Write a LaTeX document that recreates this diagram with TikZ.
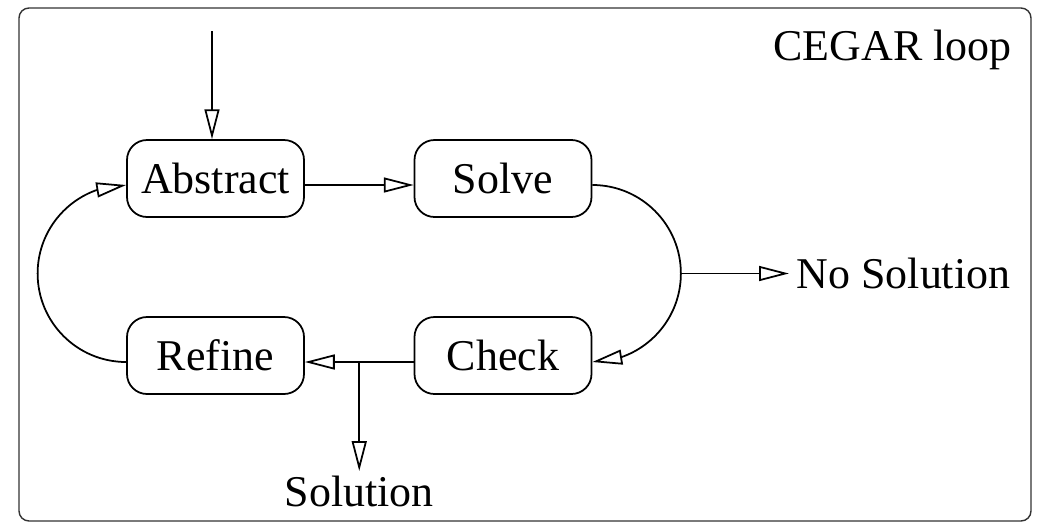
\documentclass[tikz,border=0pt]{standalone}
\usepackage{fontspec}
\setmainfont{Liberation Serif}
\usetikzlibrary{arrows.meta,bending}

\begin{document}
\begin{tikzpicture}[every node/.style={font=\fontsize{25}{30}\selectfont},
  stage/.style={draw, rounded corners=0.4cm, line width=1pt, minimum width=3.54cm, minimum height=1.54cm, inner sep=0pt},
  flow/.style={-{Triangle[open,length=17pt,width=8.5pt,flex]}, line width=1pt}]
\useasboundingbox (0,0) rectangle (20.84,-10.44);
\draw[black!80, line width=0.8pt, rounded corners=0.2cm] (0.38,-0.16) rectangle (20.62,-10.42);
\node[anchor=base east, inner sep=0pt] (title) at (20.24,-1.2) {CEGAR loop};
\node[stage] (abs) at (4.31,-3.57) {Abstract}; \node[stage] (slv) at (10.06,-3.57) {Solve};
\node[stage] (ref) at (4.31,-7.11) {Refine}; \node[stage] (chk) at (10.06,-7.11) {Check};
\coordinate (in) at ([xshift=-0.07cm,yshift=2.16cm]abs.north);
\draw[flow] (in) -- ([xshift=-0.07cm]abs.north);
\draw[flow] ([yshift=-0.13cm]abs.east) -- ([yshift=-0.13cm]slv.west);
% right half circle, with the exit point in its middle
\draw[flow] ([yshift=-0.13cm]slv.east) arc[start angle=90, end angle=0, radius=1.77cm] coordinate (nsj)
  arc[start angle=0, end angle=-90, radius=1.77cm];
\node[anchor=west, inner sep=0.15cm] (nosol) at ([xshift=2.16cm]nsj) {No Solution};
\draw[flow] (nsj) -- (nosol);
\draw[flow] ([yshift=-0.13cm]chk.west) -- coordinate[pos=0.5] (sj) ([yshift=-0.13cm]ref.east);
\node[anchor=north, inner sep=0.1cm] (sol) at ([yshift=-2.18cm]sj) {Solution};
\draw[flow] (sj) -- (sol);
\draw[flow] ([yshift=-0.13cm]ref.west) arc[start angle=270, end angle=90, radius=1.77cm];
\end{tikzpicture}
\end{document}
